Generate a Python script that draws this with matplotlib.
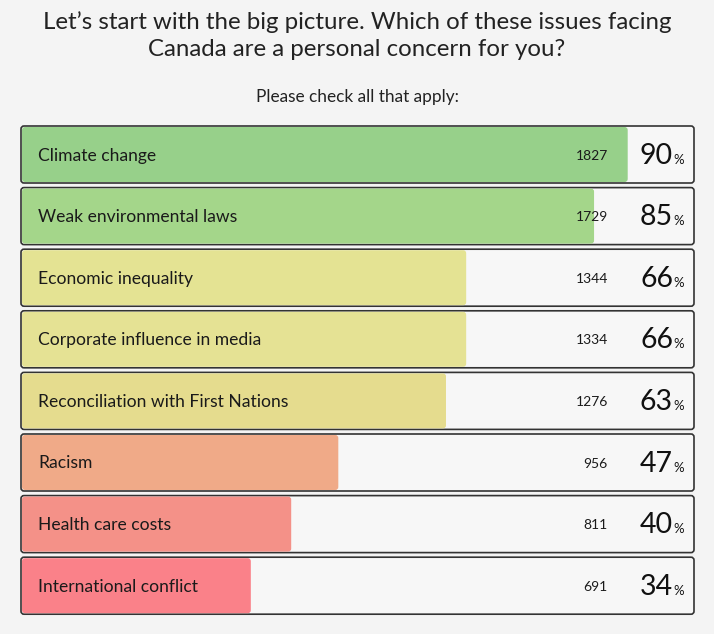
import numpy as np
import matplotlib
matplotlib.use("Agg")
import matplotlib.pyplot as plt
from matplotlib.patches import FancyBboxPatch

# survey data
issues = ["Climate change", "Weak environmental laws", "Economic inequality",
          "Corporate influence in media", "Reconciliation with First Nations",
          "Racism", "Health care costs", "International conflict"]
counts = [1827, 1729, 1344, 1334, 1276, 956, 811, 691]
percents = [90, 85, 66, 66, 63, 47, 40, 34]
colors = ["#97d08a", "#a4d68a", "#e4e393", "#e5e294", "#e5dc8e",
          "#f0aa88", "#f49188", "#fa8189"]

W, H = 714, 634
fig = plt.figure(figsize=(W / 100, H / 100), dpi=100)
fig.patch.set_facecolor("#f4f4f4")
ax = fig.add_axes([0, 0, 1, 1])
ax.set_xlim(0, W)
ax.set_ylim(H, 0)
ax.axis("off")

font = "Lato"

ax.text(W / 2, 22, "Let\u2019s start with the big picture. Which of these issues facing",
        ha="center", va="center", fontsize=17.3, family=font, color="#222222")
ax.text(W / 2, 50, "Canada are a personal concern for you?",
        ha="center", va="center", fontsize=17.3, family=font, color="#222222")
ax.text(W / 2, 97, "Please check all that apply:",
        ha="center", va="center", fontsize=12.4, family=font, color="#222222")

x0, x1 = 21, 694
box_w = x1 - x0
top = 126
row_h = 57
step = 61.6

for i, (name, n, p, c) in enumerate(zip(issues, counts, percents, colors)):
    y = top + i * step
    # outer box
    ax.add_patch(FancyBboxPatch((x0, y), box_w, row_h,
                                boxstyle="round,pad=0,rounding_size=3",
                                facecolor="#f7f7f7", edgecolor="#333333",
                                linewidth=1.2, zorder=1))
    # filled bar
    bw = box_w * p / 100
    ax.add_patch(FancyBboxPatch((x0 + 1, y + 1), bw, row_h - 2,
                                boxstyle="round,pad=0,rounding_size=3",
                                facecolor=c, edgecolor="none", zorder=2))
    cy = y + row_h / 2
    ax.text(x0 + 17, cy + 1, name, ha="left", va="center",
            fontsize=12.6, family=font, color="#1a1a1a", zorder=3)
    ax.text(608, cy + 1, str(n), ha="right", va="center",
            fontsize=10, family=font, color="#1a1a1a", zorder=3)
    base = cy + 9
    ax.text(673, base, str(p), ha="right", va="baseline",
            fontsize=20.5, family=font, color="#111111", zorder=3)
    ax.text(673.5, base, "%", ha="left", va="baseline",
            fontsize=9.5, family=font, color="#111111", zorder=3)

fig.savefig("out.png", dpi=100, facecolor=fig.get_facecolor())
